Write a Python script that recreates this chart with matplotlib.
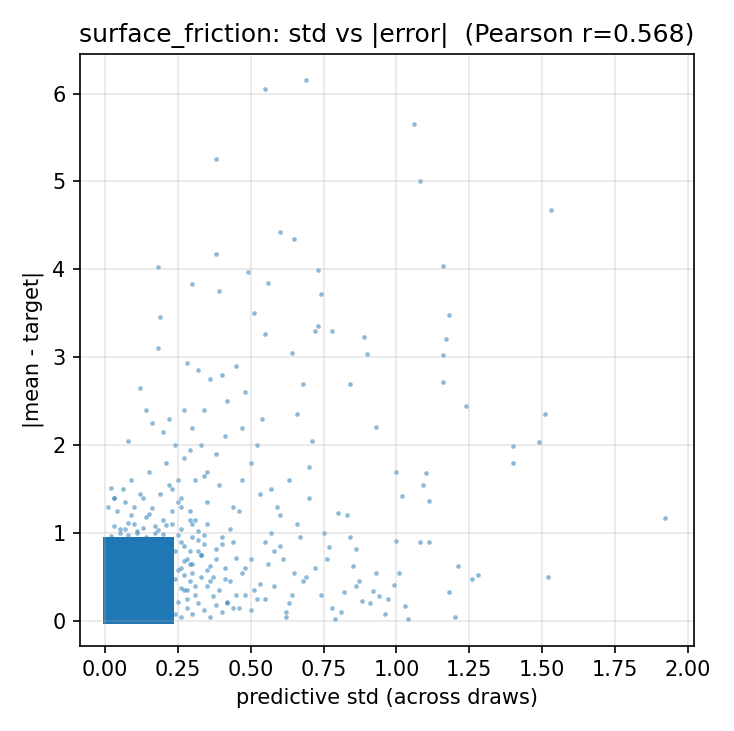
import matplotlib
matplotlib.use("Agg")
import matplotlib.pyplot as plt

# sparse points (std, |error|)
sparse_std = [0.55, 0.69, 1.06, 1.08, 0.38, 1.53, 0.60, 0.65, 0.18, 1.16, 0.38, 0.49, 0.73, 0.56, 0.30,
              0.39, 0.74, 0.19, 1.18, 0.51, 0.73, 0.72, 0.78, 1.17, 0.89, 0.55, 0.18, 0.90, 1.16, 0.64,
              0.84, 1.16, 0.68, 1.24, 0.93, 1.51, 1.40, 1.49, 1.40, 1.92, 1.21, 1.52, 1.26, 1.28, 1.18,
              1.20, 1.08, 1.11, 1.10, 1.09, 1.11, 1.02, 1.00, 1.00, 1.01, 0.99, 1.03, 1.04, 0.96, 0.94,
              0.93, 0.92, 0.86, 0.85, 0.84, 0.83, 0.80, 0.86, 0.88, 0.82, 0.79, 0.77, 0.75, 0.78, 0.72,
              0.70, 0.70, 0.71, 0.66, 0.63, 0.60, 0.58, 0.62, 0.68, 0.66, 0.64, 0.61, 0.57, 0.54, 0.52,
              0.50, 0.48, 0.47, 0.45, 0.44, 0.42, 0.41, 0.40, 0.38, 0.36, 0.35, 0.34, 0.33, 0.32, 0.31,
              0.30, 0.29, 0.28, 0.27, 0.45, 0.48, 0.52, 0.55, 0.58, 0.62, 0.65, 0.43, 0.46, 0.50, 0.53,
              0.57, 0.60, 0.37, 0.39, 0.42, 0.35, 0.33, 0.31, 0.29, 0.27, 0.26, 0.28, 0.30, 0.32, 0.34,
              0.36, 0.40, 0.44, 0.47, 0.51, 0.56, 0.59, 0.63, 0.67, 0.69, 0.74, 0.76, 0.81, 0.87, 0.91,
              0.97, 0.02, 0.01, 0.03, 0.12, 0.14, 0.08, 0.22, 0.24, 0.21, 0.25, 0.23, 0.26, 0.20, 0.16]
sparse_err = [6.05, 6.15, 5.65, 5.00, 5.25, 4.67, 4.42, 4.35, 4.03, 4.04, 4.18, 3.97, 3.99, 3.85, 3.83,
              3.75, 3.72, 3.46, 3.48, 3.50, 3.36, 3.30, 3.30, 3.21, 3.23, 3.26, 3.11, 3.04, 3.03, 3.05,
              2.70, 2.72, 2.70, 2.44, 2.21, 2.36, 1.99, 2.04, 1.80, 1.17, 0.62, 0.50, 0.48, 0.52, 0.33,
              0.05, 0.90, 0.90, 1.68, 1.55, 1.36, 1.42, 1.69, 0.91, 0.55, 0.41, 0.17, 0.02, 0.08, 0.28,
              0.55, 0.34, 0.82, 0.62, 0.95, 1.20, 1.23, 0.40, 0.23, 0.33, 0.02, 0.84, 1.00, 0.15, 0.60,
              1.40, 1.75, 2.05, 2.35, 1.60, 1.20, 0.80, 0.05, 0.45, 1.10, 0.30, 0.70, 1.50, 2.30, 2.00,
              1.80, 2.60, 2.20, 2.90, 1.30, 2.50, 2.10, 2.80, 1.90, 2.75, 1.70, 2.40, 2.00, 2.85, 1.60,
              2.20, 1.95, 2.93, 2.40, 0.30, 0.60, 0.25, 0.90, 0.40, 0.10, 0.55, 1.05, 1.25, 0.70, 1.45,
              1.00, 0.85, 0.50, 1.55, 0.20, 1.35, 0.75, 1.15, 0.65, 1.85, 1.40, 0.35, 1.10, 0.80, 1.65,
              0.45, 0.95, 0.15, 1.60, 0.35, 0.65, 1.30, 0.20, 0.95, 0.50, 0.30, 0.70, 0.10, 0.45, 0.20,
              0.25, 1.51, 1.30, 1.40, 2.65, 2.40, 2.05, 2.30, 2.00, 1.80, 1.60, 1.50, 1.30, 2.15, 2.25]

# fringe of the cloud, just outside the solid core
fringe_std = [0.26, 0.28, 0.30, 0.32, 0.34, 0.36, 0.38, 0.27, 0.29, 0.31, 0.33, 0.35, 0.37, 0.40,
              0.26, 0.28, 0.30, 0.33, 0.36, 0.39, 0.42, 0.27, 0.30, 0.34, 0.38, 0.43, 0.46, 0.26,
              0.29, 0.32, 0.35, 0.41, 0.44, 0.48, 0.05, 0.08, 0.11, 0.14, 0.17, 0.20, 0.23, 0.04,
              0.07, 0.10, 0.13, 0.16, 0.19, 0.06, 0.09, 0.12, 0.15, 0.03, 0.22, 0.25,
              0.24, 0.25, 0.26, 0.24, 0.25, 0.27, 0.24, 0.26, 0.25, 0.28, 0.27, 0.29, 0.31, 0.30,
              0.02, 0.05, 0.08, 0.11, 0.14, 0.17, 0.20, 0.03, 0.07, 0.10, 0.13, 0.18, 0.21, 0.09,
              0.15, 0.23, 0.32, 0.35, 0.38, 0.41, 0.45, 0.50, 0.53, 0.29, 0.34, 0.40, 0.47, 0.55]
fringe_err = [0.05, 0.15, 0.08, 0.20, 0.12, 0.05, 0.18, 0.35, 0.45, 0.30, 0.50, 0.40, 0.28, 0.10,
              0.60, 0.70, 0.55, 0.75, 0.62, 0.35, 0.22, 0.85, 0.95, 0.88, 0.70, 0.45, 0.15, 1.05,
              1.15, 1.02, 1.10, 0.60, 0.90, 0.30, 1.05, 1.12, 1.00, 1.18, 1.08, 1.15, 1.25, 1.25,
              1.35, 1.30, 1.40, 1.28, 1.45, 1.50, 1.60, 1.45, 1.70, 1.40, 1.55, 1.35,
              0.08, 0.22, 0.38, 0.48, 0.58, 0.68, 0.80, 0.90, 0.98, 0.25, 0.52, 0.80, 0.40, 0.65,
              0.97, 1.00, 0.98, 1.02, 0.96, 1.00, 0.99, 1.08, 1.05, 1.10, 1.06, 1.04, 1.09, 1.20,
              1.22, 1.10, 0.92, 0.58, 0.82, 0.48, 0.72, 0.12, 0.42, 1.25, 0.98, 0.88, 0.55, 0.25]

# solid core of the cloud, sampled on the rows and columns where it is filled
core_x = [0.01, 0.04, 0.07, 0.10, 0.13, 0.16, 0.19, 0.22]
core_y = [0.02, 0.12, 0.22, 0.32, 0.42, 0.52, 0.62, 0.72, 0.82, 0.90]
core_std = [x for y in core_y for x in core_x]
core_err = [y for y in core_y for x in core_x]

fig, ax = plt.subplots(figsize=(734 / 150, 731 / 150), dpi=150)
ax.scatter(core_std, core_err, s=24, c="#1f77b4", alpha=1.0, linewidths=0, marker="s")
ax.scatter(fringe_std, fringe_err, s=5, c="#1f77b4", alpha=0.5, linewidths=0)
ax.scatter(sparse_std, sparse_err, s=5, c="#1f77b4", alpha=0.5, linewidths=0)
ax.set_xlim(-0.085, 2.02)
ax.set_ylim(-0.28, 6.45)
ax.set_xticks([0.0, 0.25, 0.5, 0.75, 1.0, 1.25, 1.5, 1.75, 2.0])
ax.grid(alpha=0.3)
ax.set_xlabel("predictive std (across draws)")
ax.set_ylabel("|mean - target|")
ax.set_title("surface_friction: std vs |error|  (Pearson r=0.568)")
fig.tight_layout()
fig.savefig("out.png", dpi=150)
